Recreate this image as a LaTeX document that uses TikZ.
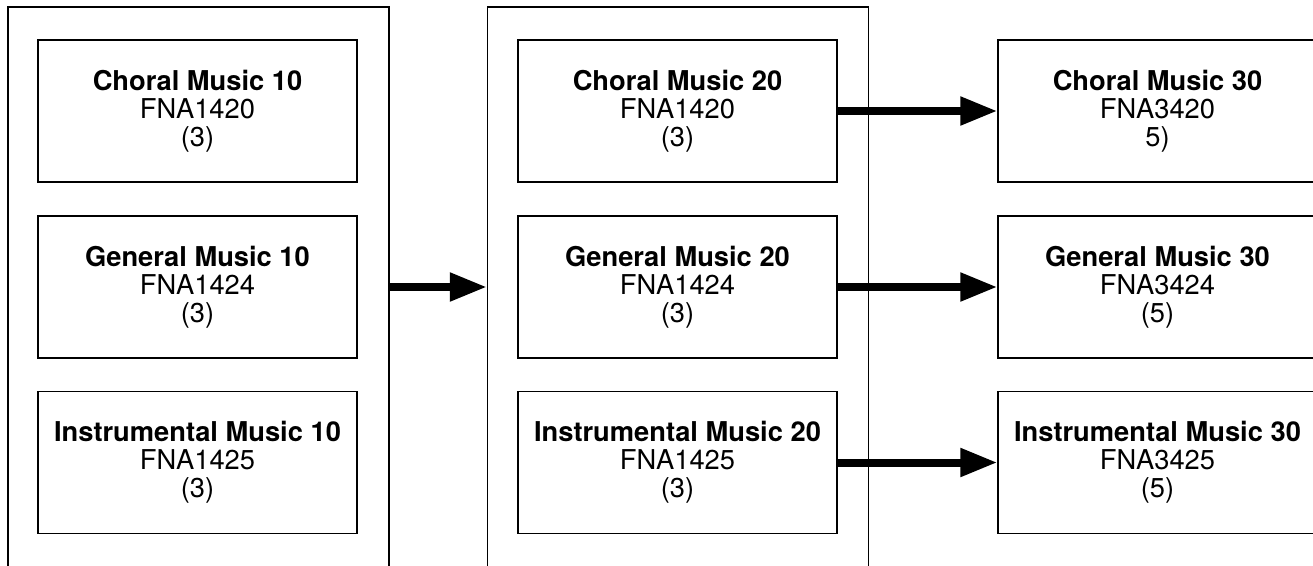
\documentclass[tikz,border=0pt]{standalone}
\usepackage{fontspec}
\setmainfont{TeX Gyre Heros}
\usetikzlibrary{arrows.meta}

\begin{document}
\begin{tikzpicture}[x=1pt,y=-1pt,
  grade/.style={draw,line width=1.3pt,minimum width=381pt,minimum height=560pt,inner sep=0pt},
  course/.style={draw,line width=1.3pt,minimum width=319pt,minimum height=142pt,inner sep=0pt,align=center,font=\fontsize{27.3}{28}\selectfont},
  flow/.style={line width=8pt,-{Triangle[length=37pt,width=27pt]}}]
\useasboundingbox (0,0) rectangle (1313,565);
\clip (0,0) rectangle (1313,565);
\node[grade] (g10) at (198.5,287) {};
\node[grade] (g20) at (678,287) {};
\node[course] (c10) at (197.5,111) {\textbf{Choral Music 10}\\FNA1420\\(3)};
\node[course] (m10) at (197.5,287) {\textbf{General Music 10}\\FNA1424\\(3)};
\node[course] (i10) at (197.5,462.5) {\textbf{Instrumental Music 10}\\FNA1425\\(3)};
\node[course] (c20) at (677.5,111) {\textbf{Choral Music 20}\\FNA1420\\(3)};
\node[course] (m20) at (677.5,287) {\textbf{General Music 20}\\FNA1424\\(3)};
\node[course] (i20) at (677.5,462.5) {\textbf{Instrumental Music 20}\\FNA1425\\(3)};
\node[course] (c30) at (1157.5,111) {\textbf{Choral Music 30}\\FNA3420\\5)};
\node[course] (m30) at (1157.5,287) {\textbf{General Music 30}\\FNA3424\\(5)};
\node[course] (i30) at (1157.5,462.5) {\textbf{Instrumental Music 30}\\FNA3425\\(5)};
\draw[flow] (g10.east) -- (g20.west);
\draw[flow] (c20.east) -- (c30.west);
\draw[flow] (m20.east) -- (m30.west);
\draw[flow] (i20.east) -- (i30.west);
\end{tikzpicture}
\end{document}
